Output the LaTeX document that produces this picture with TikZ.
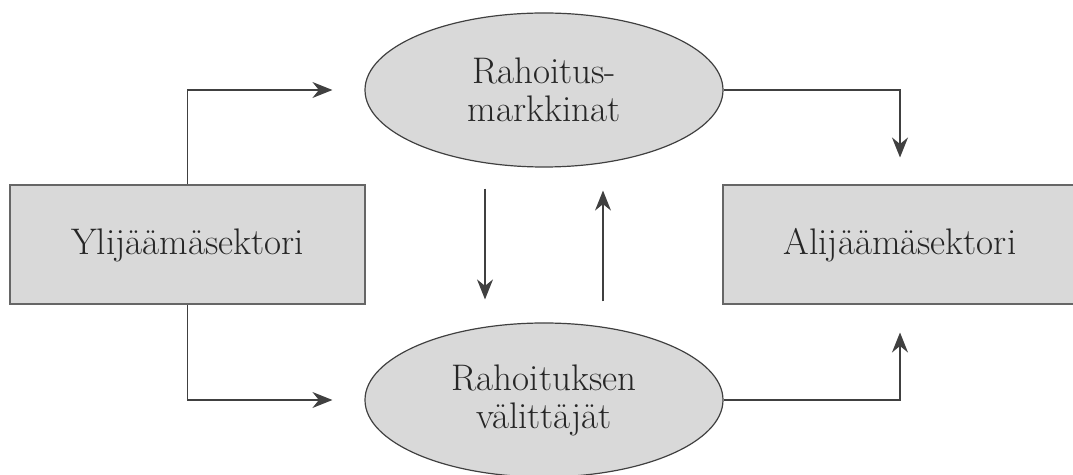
\documentclass[tikz,border=0pt]{standalone}
\usetikzlibrary{arrows.meta,shapes.geometric}
\tikzset{
  sektori/.style={rectangle,draw=black!60,line width=1pt,fill=black!15,
    minimum width=177.5pt,minimum height=59.5pt,inner sep=0pt,text=black!85},
  markkina/.style={ellipse,draw=black!75,line width=0.6pt,fill=black!15,
    minimum width=179pt,minimum height=77pt,inner sep=0pt,align=center,text=black!85},
  flow/.style={draw=black!75,line width=0.75pt,-{Stealth[length=10pt,width=8pt]}}
}
\begin{document}
\begin{tikzpicture}[x=0.5pt,y=-0.5pt,font=\fontsize{18.5}{19}\selectfont]
\useasboundingbox (0,0) rectangle (1073,475);

\node[sektori] (ylij) at (187.5,245) {Ylijäämäsektori};
\node[sektori] (alij) at (900,245) {Alijäämäsektori};
\node[markkina] (rmark) at (544,90) {Rahoitus-\\markkinat};
\node[markkina] (rval) at (544,400) {Rahoituksen\\välittäjät};

\draw[flow,shorten >=16pt] (ylij.north) |- (rmark.west);
\draw[flow,shorten >=16pt] (ylij.south) |- (rval.west);
\draw[flow,shorten >=13.5pt] (rmark.east) -| (alij.north);
\draw[flow,shorten >=13.5pt] (rval.east) -| (alij.south);

\draw[flow] ([xshift=-29.5pt,yshift=-10.5pt]rmark.south) -- ([xshift=-29.5pt,yshift=11.5pt]rval.north);
\draw[flow] ([xshift=29.5pt,yshift=10.5pt]rval.north) -- ([xshift=29.5pt,yshift=-11.5pt]rmark.south);
\end{tikzpicture}
\end{document}
